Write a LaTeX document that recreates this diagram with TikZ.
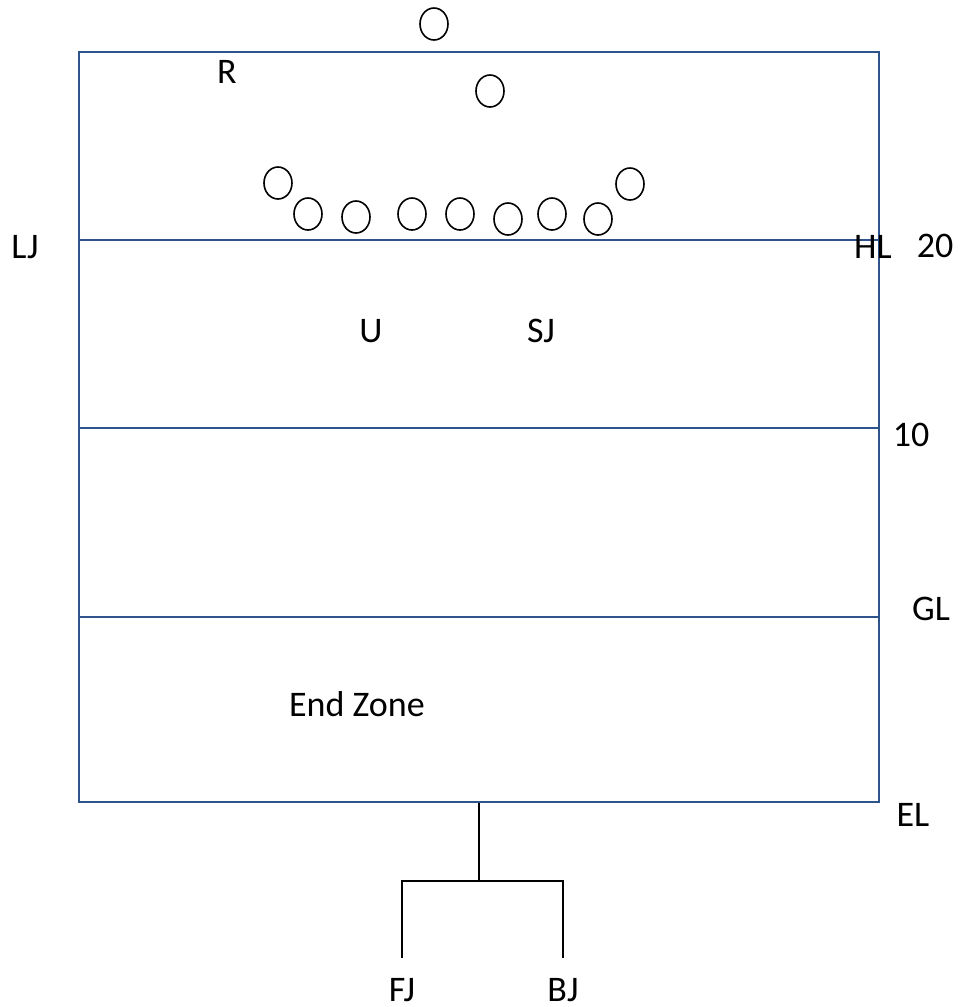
\documentclass[tikz,border=0pt]{standalone}
\usepackage{fontspec}
\setmainfont{Carlito}
\usetikzlibrary{shapes.geometric}
\definecolor{fieldblue}{RGB}{47,84,140}
\tikzset{
  fieldbox/.style={draw=fieldblue,line width=1.5pt,minimum width=800pt,minimum height=750pt,inner sep=0pt,rectangle},
  yardline/.style={draw=fieldblue,line width=1.5pt},
  player/.style={draw=black,line width=1.6pt,ellipse,minimum width=28pt,minimum height=32pt,inner sep=0pt},
  lbl/.style={font=\fontsize{36}{40}\selectfont,inner sep=0pt},
  conn/.style={draw=black,line width=1.6pt}
}
\begin{document}
\begin{tikzpicture}[x=1pt,y=-1pt]
\useasboundingbox (0,0) rectangle (959,1007);
\node[fieldbox] (field) at (479,427) {};
\coordinate (l20) at (79,240); \coordinate (r20) at (879,240);
\coordinate (l10) at (79,428); \coordinate (r10) at (879,428);
\coordinate (lgl) at (79,617); \coordinate (rgl) at (879,617);
\draw[yardline] (l20) -- (r20);
\draw[yardline] (l10) -- (r10);
\draw[yardline] (lgl) -- (rgl);
% players
\node[player] (p1) at (434,24) {};
\node[player] (p2) at (490,91) {};
\node[player] (p3) at (278,183) {};
\node[player] (p4) at (308,214) {};
\node[player] (p5) at (356,217) {};
\node[player] (p6) at (412,214) {};
\node[player] (p7) at (460,214) {};
\node[player] (p8) at (508,219) {};
\node[player] (p9) at (552,214) {};
\node[player] (p10) at (598,219) {};
\node[player] (p11) at (630,184) {};
% labels
\node[lbl] (R) at (227,72) {R};
\node[lbl] (LJ) at (25,247) {LJ};
\node[lbl] (HL) at (873,247) {HL};
\node[lbl] (y20) at (935,246) {20};
\node[lbl] (U) at (371,331) {U};
\node[lbl] (SJ) at (541,331) {SJ};
\node[lbl] (y10) at (911,435) {10};
\node[lbl] (GL) at (931,609) {GL};
\node[lbl] (EZ) at (357,704) {End Zone};
\node[lbl] (EL) at (913,815) {EL};
\node[lbl,anchor=base] (FJ) at (402,1001) {FJ};
\node[lbl,anchor=base] (BJ) at (563,1001) {BJ};
% connector
\coordinate (split) at (479,881);
\coordinate (fjtop) at (402,958);
\coordinate (bjtop) at (563,958);
\draw[conn] (field.south) -- (split);
\draw[conn] (fjtop) |- (split) -| (bjtop);
\end{tikzpicture}
\end{document}
